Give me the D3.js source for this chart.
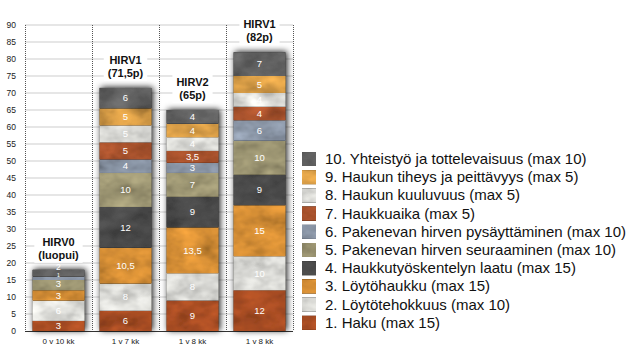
<!DOCTYPE html>
<html><head><meta charset="utf-8">
<script src="https://cdn.jsdelivr.net/npm/d3@7"></script>
<style>body{margin:0;background:#fff;}svg{display:block;font-family:"Liberation Sans",Arial,sans-serif;}</style>
</head><body><svg id="c" width="639" height="349"></svg>
<script>
const dogs = ["HIRV0", "HIRV1", "HIRV2", "HIRV1"];
const notes = ["(luopui)", "(71,5p)", "(65p)", "(82p)"];
const ages = ["0 v 10 kk", "1 v 7 kk", "1 v 8 kk", "1 v 8 kk"];
const seriesNames = [
  "1. Haku (max 15)",
  "2. Löytötehokkuus (max 10)",
  "3. Löytöhaukku (max 15)",
  "4. Haukkutyöskentelyn laatu (max 15)",
  "5. Pakenevan hirven seuraaminen (max 10)",
  "6. Pakenevan hirven pysäyttäminen (max 10)",
  "7. Haukkuaika (max 5)",
  "8. Haukun kuuluvuus (max 5)",
  "9. Haukun tiheys ja peittävyys (max 5)",
  "10. Yhteistyö ja tottelevaisuus (max 10)"
];
const haku = [3, 6, 9, 12];
const loytotehokkuus = [6, 8, 8, 10];
const loytohaukku = [3, 10.5, 13.5, 15];
const haukkutyoskentely = [0, 12, 9, 9];
const seuraaminen = [3, 10, 7, 10];
const pysayttaminen = [1, 4, 3, 6];
const haukkuaika = [0, 5, 3.5, 4];
const kuuluvuus = [0, 5, 4, 4];
const tiheys = [0, 5, 4, 5];
const yhteistyo = [2, 6, 4, 7];
const yTicks = [0, 5, 10, 15, 20, 25, 30, 35, 40, 45, 50, 55, 60, 65, 70, 75, 80, 85, 90];
const colors = ["#a54b22", "#d5d5d1", "#d28c34", "#484848", "#9c9572", "#8792a2", "#a6512c", "#d7d7d3", "#d49a45", "#5f5f5f"];

const seriesValues = [haku, loytotehokkuus, loytohaukku, haukkutyoskentely, seuraaminen, pysayttaminen, haukkuaika, kuuluvuus, tiheys, yhteistyo];
const rows = dogs.map((d, i) => { const r = {idx: i}; seriesValues.forEach((s, k) => r["s" + k] = s[i]); return r; });
const keys = seriesValues.map((s, k) => "s" + k);

const svg = d3.select("#c");
const defs = svg.append("defs");
const tex = defs.append("filter").attr("id", "tex").attr("x", 0).attr("y", 0).attr("width", 1).attr("height", 1);
tex.append("feTurbulence").attr("type", "fractalNoise").attr("baseFrequency", "0.045 0.07").attr("numOctaves", 3).attr("seed", 7).attr("result", "n");
tex.append("feColorMatrix").attr("in", "n").attr("type", "matrix")
  .attr("values", "0.33 0.33 0.33 0 0  0.33 0.33 0.33 0 0  0.33 0.33 0.33 0 0  0 0 0 0 1").attr("result", "g");
tex.append("feComposite").attr("in", "SourceGraphic").attr("in2", "g").attr("operator", "arithmetic")
  .attr("k1", 2.0).attr("k2", 0.05).attr("k3", 0).attr("k4", 0);
const sh = defs.append("filter").attr("id", "sh").attr("x", -0.3).attr("y", -0.3).attr("width", 1.6).attr("height", 1.6);
sh.append("feDropShadow").attr("dx", 1.5).attr("dy", -0.5).attr("stdDeviation", 3).attr("flood-color", "#000").attr("flood-opacity", 0.9);

const x = d3.scaleBand().domain(d3.range(dogs.length)).range([25, 293]).padding(0);
const y = d3.scaleLinear().domain([0, 90]).range([331, 25]);
const barW = x.bandwidth() * 0.77;

// gridlines
svg.append("g").selectAll("line").data(yTicks.filter(t => t > 0)).join("line")
  .attr("x1", 25).attr("x2", 293).attr("y1", d => y(d)).attr("y2", d => y(d))
  .attr("stroke", "#dedede").attr("stroke-width", 1.6);

// vertical dotted separators
const seps = d3.range(dogs.length + 1).map(i => i < dogs.length ? x(i) : x(dogs.length - 1) + x.bandwidth());
svg.append("g").selectAll("line").data(seps).join("line")
  .attr("x1", d => Math.round(d) + 0.5).attr("x2", d => Math.round(d) + 0.5).attr("y1", y(90)).attr("y2", y(0))
  .attr("stroke", "#555").attr("stroke-width", 1).attr("stroke-dasharray", "1,1");

// y tick labels
svg.append("g").selectAll("text").data(yTicks).join("text")
  .attr("x", 16).attr("y", d => y(d) + 3).attr("text-anchor", "end")
  .attr("font-size", 8.5).attr("fill", "#222").text(d => d);

// bottom axis
svg.append("line").attr("x1", 25).attr("x2", 293).attr("y1", y(0) + 0.5).attr("y2", y(0) + 0.5).attr("stroke", "#333").attr("stroke-width", 1);

// x labels
svg.append("g").selectAll("text").data(ages).join("text")
  .attr("x", (d, i) => x(i) + x.bandwidth() / 2).attr("y", 344).attr("text-anchor", "middle")
  .attr("font-size", 8).attr("fill", "#222").text(d => d);

// stacked bars
const stacked = d3.stack().keys(keys)(rows);
const barGroups = svg.append("g").selectAll("g").data(rows).join("g").attr("filter", "url(#sh)");
barGroups.each(function(r, i) {
  const g = d3.select(this);
  stacked.forEach((layer, k) => {
    const seg = layer[i];
    if (seg[1] - seg[0] <= 0) return;
    g.append("rect")
      .attr("x", x(i) + (x.bandwidth() - barW) / 2).attr("width", barW)
      .attr("y", y(seg[1])).attr("height", y(seg[0]) - y(seg[1]))
      .attr("fill", colors[k]).attr("filter", "url(#tex)");
  });
});
// value labels (small labels nudged so they do not collide)
const lbl = svg.append("g");
rows.forEach((r, i) => {
  let lastTop = Infinity;
  stacked.forEach((layer, k) => {
    const seg = layer[i];
    const v = seg[1] - seg[0];
    if (v <= 0) return;
    const h = y(seg[0]) - y(seg[1]);
    const fs = Math.min(9.5, h + 1.8);
    const hh = fs * 0.56;
    let c = (y(seg[0]) + y(seg[1])) / 2;
    if (c + hh > lastTop - 0.5) c = lastTop - 0.5 - hh;
    lastTop = c - hh;
    lbl.append("text").attr("x", x(i) + x.bandwidth() / 2).attr("y", c + fs * 0.35)
      .attr("text-anchor", "middle").attr("font-size", fs).attr("fill", "#fff")
      .text(String(v).replace(".", ","));
  });
});

// titles above bars
rows.forEach((r, i) => {
  const total = d3.sum(seriesValues, s => s[i]);
  const cx = x(i) + x.bandwidth() / 2;
  const top = y(total);
  const g = svg.append("g");
  const t1 = g.append("text").attr("x", cx).attr("y", top - 24).attr("text-anchor", "middle")
    .attr("font-size", 11).attr("font-weight", "bold").attr("fill", "#111").text(dogs[i]);
  const t2 = g.append("text").attr("x", cx).attr("y", top - 11).attr("text-anchor", "middle")
    .attr("font-size", 11).attr("font-weight", "bold").attr("fill", "#111").text(notes[i]);
  const w = Math.max(t1.node().getComputedTextLength(), t2.node().getComputedTextLength()) + 8;
  g.insert("rect", "text").attr("x", cx - w / 2).attr("y", top - 35).attr("width", w).attr("height", 28).attr("fill", "#fff");
});

// legend
const legend = svg.append("g");
const order = d3.range(seriesNames.length).reverse();
order.forEach((k, j) => {
  const cy = 159 + j * 18.2;
  legend.append("rect").attr("x", 302).attr("y", cy - 7).attr("width", 14).attr("height", 14)
    .attr("fill", colors[k]).attr("filter", "url(#tex)");
  legend.append("text").attr("x", 325).attr("y", cy + 5).attr("font-size", 15).attr("fill", "#111").text(seriesNames[k]);
});
</script></body></html>
